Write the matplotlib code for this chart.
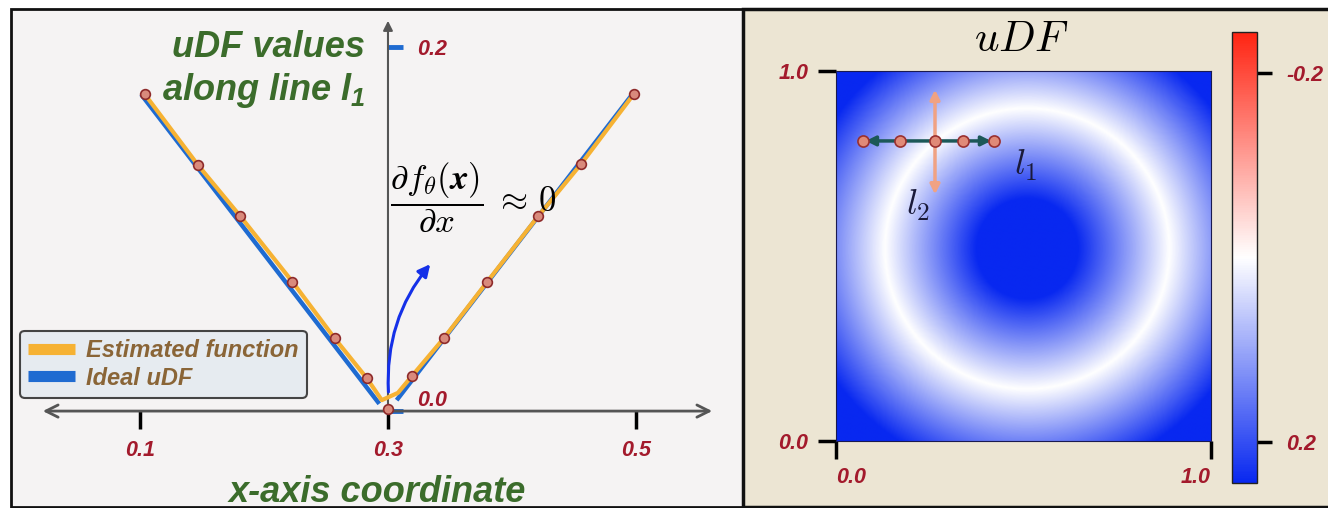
import matplotlib
matplotlib.use("Agg")
import matplotlib.pyplot as plt
import numpy as np
from matplotlib.colors import LinearSegmentedColormap
from matplotlib.lines import Line2D
from matplotlib.patches import Rectangle

plt.rcParams['font.family'] = ['Liberation Sans', 'DejaVu Sans']
plt.rcParams['mathtext.fontset'] = 'cm'
plt.rcParams['mathtext.rm'] = 'Liberation Sans:italic:bold'
plt.rcParams['mathtext.it'] = 'Liberation Sans:italic:bold'
plt.rcParams['mathtext.bf'] = 'Liberation Sans:italic:bold'

# sample points along line l1 (left panel)
point_x = [0.104, 0.147, 0.181, 0.223, 0.257, 0.283, 0.300, 0.319, 0.345, 0.380, 0.421, 0.456, 0.498]
point_y = [0.174, 0.135, 0.107, 0.071, 0.040, 0.018, 0.001, 0.019, 0.040, 0.071, 0.107, 0.136, 0.174]
# estimated function (orange)
est_x = [0.104, 0.147, 0.181, 0.223, 0.257, 0.283, 0.295, 0.308, 0.319, 0.345, 0.380, 0.421, 0.456, 0.498]
est_y = [0.174, 0.135, 0.107, 0.071, 0.040, 0.018, 0.006, 0.010, 0.019, 0.040, 0.071, 0.107, 0.136, 0.174]
# ideal uDF (blue), two arms
ideal_x = [0.101, 0.293, np.nan, 0.307, 0.497]
ideal_y = [0.174, 0.004, np.nan, 0.006, 0.174]
xticks = [0.1, 0.3, 0.5]
xtick_labels = ['0.1', '0.3', '0.5']
yticks = [0.0, 0.2]
ytick_labels = ['0.0', '0.2']

# right panel: circle whose unsigned distance field is shown
circle_center = (0.51, 0.52)
circle_radius = 0.38
grid_n = 400
cbar_ticks = [-0.2, 0.2]
cbar_labels = ['-0.2', '0.2']
l1_x = [0.072, 0.171, 0.264, 0.339, 0.421]
l1_y = [0.811] * 5
l2_x = [0.264, 0.264]
l2_y = [0.659, 0.957]

RED = '#a31a2c'
GREEN = '#3b6c2b'
TICK_FS = 15.5
W, H = 1328, 508

fig = plt.figure(figsize=(W / 100, H / 100), dpi=100)
fig.patch.set_facecolor('white')

# panel backgrounds
bg = fig.add_axes([0, 0, 1, 1], zorder=-5)
bg.set_xlim(0, W)
bg.set_ylim(H, 0)
bg.axis('off')
bg.add_patch(Rectangle((11, 9), 732, 498, facecolor='#f5f3f3', edgecolor='#111111', lw=2))
bg.add_patch(Rectangle((743, 9), 590, 498, facecolor='#ece5d3', edgecolor='#111111', lw=2.5))


def fpos(x0, y0, x1, y1):
    return [x0 / W, 1 - y1 / H, (x1 - x0) / W, (y1 - y0) / H]


def bold_italic(labels):
    for t in labels:
        t.set_fontweight('bold')
        t.set_fontstyle('italic')


# ---- left panel ----
ax = fig.add_axes(fpos(40, 18, 715, 430))
ax.set_facecolor('none')
ax.set_xlim(0.0194, 0.5637)
ax.set_ylim(-0.0104, 0.216)
for s in ['top', 'left']:
    ax.spines[s].set_visible(False)
ax.spines['bottom'].set_position(('data', 0))
ax.spines['bottom'].set_color('none')
ax.spines['right'].set_position(('data', 0.3))
ax.spines['right'].set_color('none')

ax.annotate('', xy=(0.0194, 0), xytext=(0.5637, 0),
            arrowprops=dict(arrowstyle='<->', color='#555555', lw=2, mutation_scale=22),
            annotation_clip=False)
ax.annotate('', xy=(0.3, 0.216), xytext=(0.3, -0.001),
            arrowprops=dict(arrowstyle='-|>', color='#555555', lw=1.5, mutation_scale=14),
            annotation_clip=False)

ax.set_xticks(xticks)
ax.set_xticklabels(xtick_labels)
ax.tick_params(axis='x', direction='out', length=13, width=2.5, color='black',
               labelcolor=RED, labelsize=TICK_FS, pad=8)
bold_italic(ax.get_xticklabels())

ax.yaxis.tick_right()
ax.set_yticks(yticks)
ax.set_yticklabels(ytick_labels)
ax.tick_params(axis='y', direction='out', length=11, width=3.5, color='#1f6bd1',
               labelcolor=RED, labelsize=TICK_FS, pad=10)
bold_italic(ax.get_yticklabels())
ax.get_yticklabels()[0].set_va('bottom')

ax.plot(ideal_x, ideal_y, color='#1f6bd1', lw=3.2, solid_capstyle='butt', zorder=3)
ax.plot(est_x, est_y, color='#f6b233', lw=3.0, zorder=4)
ax.plot(point_x, point_y, 'o', ms=7, mfc='#d98a7c', mec='#8e2a2a', mew=1.2, zorder=5)

ax.annotate('', xy=(0.3355, 0.0819), xytext=(0.3005, 0.009),
            arrowprops=dict(arrowstyle='-|>', color='#1530e8', lw=2.2, mutation_scale=18,
                            connectionstyle='arc3,rad=-0.2'), zorder=6)

ax.text(0.3015, 0.1176,
        r'$\dfrac{\partial f_\theta(\boldsymbol{x})}{\partial x}\;\approx\,0$',
        fontsize=25, ha='left', va='center', math_fontfamily='cm', zorder=7)

ax.text(0.2815, 0.2, 'uDF values', color=GREEN, fontsize=26, fontweight='bold',
        fontstyle='italic', ha='right', va='center')
ax.text(0.2815, 0.1764, r'along line $l_1$', color=GREEN, fontsize=26, fontweight='bold',
        fontstyle='italic', ha='right', va='center', math_fontfamily='custom')

ax.set_xlabel('x-axis coordinate', color=GREEN, fontsize=26, fontweight='bold',
              fontstyle='italic', labelpad=10)

handles = [Line2D([], [], color='#f6b233', lw=8, solid_capstyle='butt'),
           Line2D([], [], color='#1f6bd1', lw=8, solid_capstyle='butt')]
leg = ax.legend(handles, ['Estimated function', 'Ideal uDF'], loc='lower left',
                bbox_to_anchor=(20 / W, 1 - 398 / H), bbox_transform=fig.transFigure,
                borderaxespad=0, fancybox=True, framealpha=1, facecolor='#e6ebf0',
                edgecolor='#444444', handlelength=2.0, handletextpad=0.45,
                labelspacing=0.2, borderpad=0.35,
                prop=dict(family='Liberation Sans', weight='bold', style='italic', size=17))
leg.get_frame().set_linewidth(1.5)
for t in leg.get_texts():
    t.set_color('#8a6537')

# ---- right panel ----
ax2 = fig.add_axes(fpos(836, 71, 1211, 441))
g = np.linspace(0, 1, grid_n)
X, Y = np.meshgrid(g, g)
udf = np.abs(np.hypot(X - circle_center[0], Y - circle_center[1]) - circle_radius)
cmap = LinearSegmentedColormap.from_list('udf', ['#ff2412', '#ffffff', '#0828f0'])
im = ax2.imshow(udf, origin='lower', extent=[0, 1, 0, 1], aspect='auto', cmap=cmap,
                vmin=-0.245, vmax=0.245, interpolation='bilinear')
for s in ax2.spines.values():
    s.set_linewidth(0.8)
    s.set_color('#1a1a50')
ax2.set_xticks([0, 1])
ax2.set_xticklabels(['0.0', '1.0'])
ax2.set_yticks([0, 1])
ax2.set_yticklabels(['0.0', '1.0'])
ax2.tick_params(axis='x', direction='out', length=13, width=2.5, color='black',
                labelcolor=RED, labelsize=TICK_FS, pad=6)
ax2.tick_params(axis='y', direction='out', length=13, width=2.5, color='black',
                labelcolor=RED, labelsize=TICK_FS, pad=7)
bold_italic(ax2.get_xticklabels() + ax2.get_yticklabels())
ax2.get_xticklabels()[0].set_ha('left')
ax2.get_xticklabels()[1].set_ha('right')

ax2.annotate('', xy=(l2_x[1], l2_y[1]), xytext=(l2_x[0], l2_y[0]),
             arrowprops=dict(arrowstyle='<|-|>', color='#f0a283', lw=2.5, mutation_scale=14))
ax2.annotate('', xy=(l1_x[-1], l1_y[0]), xytext=(l1_x[0], l1_y[0]),
             arrowprops=dict(arrowstyle='<|-|>', color='#1c5858', lw=2.5, mutation_scale=14))
ax2.plot(l1_x, l1_y, 'o', ms=8, mfc='#e08a78', mec='#9a3030', mew=1.2, zorder=5)
ax2.text(0.507, 0.746, r'$l_1$', fontsize=26, color='#1a1a3a', ha='center', va='center',
         math_fontfamily='cm')
ax2.text(0.219, 0.638, r'$l_2$', fontsize=26, color='#1a1a3a', ha='center', va='center',
         math_fontfamily='cm')

fig.text(1021 / W, 1 - 40 / H, r'$uDF$', fontsize=31, ha='center', va='center',
         math_fontfamily='cm')

cax = fig.add_axes(fpos(1232, 32, 1257, 483))
cb = fig.colorbar(im, cax=cax)
cb.set_ticks(cbar_ticks)
cb.set_ticklabels(cbar_labels)
cax.invert_yaxis()
cb.outline.set_linewidth(1)
cb.outline.set_edgecolor('#222222')
cax.tick_params(direction='out', length=11, width=2.5, color='black',
                labelcolor=RED, labelsize=TICK_FS, pad=10)
bold_italic(cax.get_yticklabels())

fig.savefig('out.png', dpi=100)
